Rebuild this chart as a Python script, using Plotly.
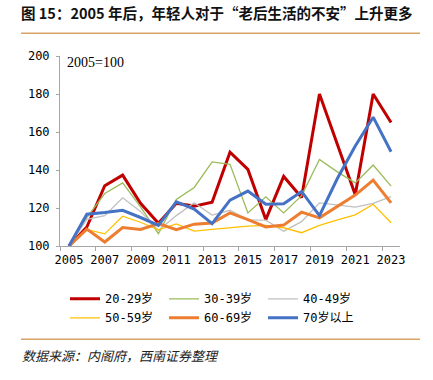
import plotly.graph_objects as go

years = list(range(2005, 2024))
tick_years = list(range(2005, 2024, 2))

s20_29 = [100, 110, 131.7, 137.3, 122.5, 112, 122.5, 121, 123, 149.4, 140.3, 113.9, 136.6, 125.5, 180, 154, 127, 180, 165]
s30_39 = [100, 115, 127.6, 133.2, 120.6, 106.5, 124.5, 130.8, 144.3, 143, 117.4, 125.9, 117.4, 126.5, 145.6, 139, 133.2, 142.6, 131.5]
s40_49 = [100, 114, 116, 125.4, 118.2, 108.2, 116, 122.8, 116.3, 118.8, 113.8, 113.6, 107.8, 112.8, 122.7, 121.7, 120.5, 122.4, 126]
s50_59 = [100, 108.7, 106.4, 115.7, 112.5, 108.5, 111.6, 107.8, 108.8, 109.8, 110.5, 110.9, 109.6, 107, 110.9, 113.7, 116.4, 122, 112.2]
s60_69 = [100, 108.9, 102.1, 109.7, 108.7, 111.8, 108.6, 111.5, 112.1, 117.4, 113.9, 110, 111, 117.8, 114.8, 120.6, 126.8, 134.7, 122.7]
s70 = [100, 116.7, 117.6, 118.8, 115, 110.9, 123.2, 119.4, 111.8, 124.1, 128.9, 122, 122.2, 128.7, 116, 135.5, 152.6, 167.8, 149.6]

series = [
    ("20-29岁", s20_29, "#C00000", 3),
    ("30-39岁", s30_39, "#9BBB59", 1.3),
    ("40-49岁", s40_49, "#BFBFBF", 1.3),
    ("50-59岁", s50_59, "#FFC000", 1.3),
    ("60-69岁", s60_69, "#ED7D31", 3),
    ("70岁以上", s70, "#4472C4", 3),
]

MONO = "DejaVu Sans Mono, Noto Sans CJK SC, monospace"
CJK = "Noto Sans CJK SC, sans-serif"

fig = go.Figure()
for name, vals, color, w in series:
    fig.add_trace(go.Scatter(x=years, y=vals, mode="lines", name=name,
                             line=dict(color=color, width=w)))

L, R, T, B = 60, 33, 55.7, 134.3
PW, PH = 433 - L - R, 380 - T - B


def px(x):
    return (x - L) / PW


def py(y):
    return (380 - B - y) / PH


fig.update_layout(
    width=433, height=380,
    margin=dict(l=L, r=R, t=T, b=B, pad=0, autoexpand=False),
    paper_bgcolor="white", plot_bgcolor="white",
    title=dict(text="图 15：2005 年后，年轻人对于“老后生活的不安”上升更多",
               xref="container", yref="container", x=21 / 433, xanchor="left",
               y=1 - 14 / 380, yanchor="middle", pad=dict(t=0, b=0, l=0, r=0),
               font=dict(family=CJK, size=14.5, color="#111", weight="bold")),
    showlegend=True,
    legend=dict(orientation="h", x=px(65), xanchor="left", y=py(284), yanchor="top",
                font=dict(family=MONO, size=12, color="#000"),
                entrywidth=54, entrywidthmode="pixels", tracegroupgap=0,
                bgcolor="rgba(0,0,0,0)"),
    xaxis=dict(range=[2004.5, 2023.5], tickmode="array", tickvals=tick_years,
               ticktext=[str(y) for y in tick_years], ticks="", showgrid=False,
               showline=True, linecolor="#A6A6A6", linewidth=1,
               tickfont=dict(family=MONO, size=12, color="#000"),
               ticklabelstandoff=3,
               minor=dict(tickmode="array", tickvals=[2004.5 + 2 * k for k in range(10)],
                          ticks="outside", ticklen=4, tickcolor="#A6A6A6", tickwidth=1),
               zeroline=False, fixedrange=True),
    yaxis=dict(range=[100, 200], dtick=20, tick0=100, ticks="outside", ticklen=3,
               tickcolor="#A6A6A6", showgrid=False, showline=True, linecolor="#A6A6A6",
               linewidth=1, tickfont=dict(family=MONO, size=12, color="#000"),
               ticklabelstandoff=4, zeroline=False, fixedrange=True),
)

fig.add_annotation(text="2005=100", xref="paper", yref="paper", x=px(65), y=py(62),
                   xanchor="left", yanchor="middle", showarrow=False,
                   font=dict(family="Liberation Serif, Times New Roman, serif", size=14, color="#000"))
fig.add_annotation(text="数据来源：内阁府，西南证券整理", xref="paper", yref="paper",
                   x=px(20), y=py(355), xanchor="left", yanchor="middle", showarrow=False,
                   font=dict(family=CJK, size=13, color="#222", style="italic"))

for yline in (33, 339):
    fig.add_shape(type="line", xref="paper", yref="paper", x0=px(21), x1=px(420),
                  y0=py(yline), y1=py(yline), line=dict(color="#D8A465", width=1.5))

fig.write_html("out.html", config={"displayModeBar": False},
               post_script="document.body.style.margin='0';")
